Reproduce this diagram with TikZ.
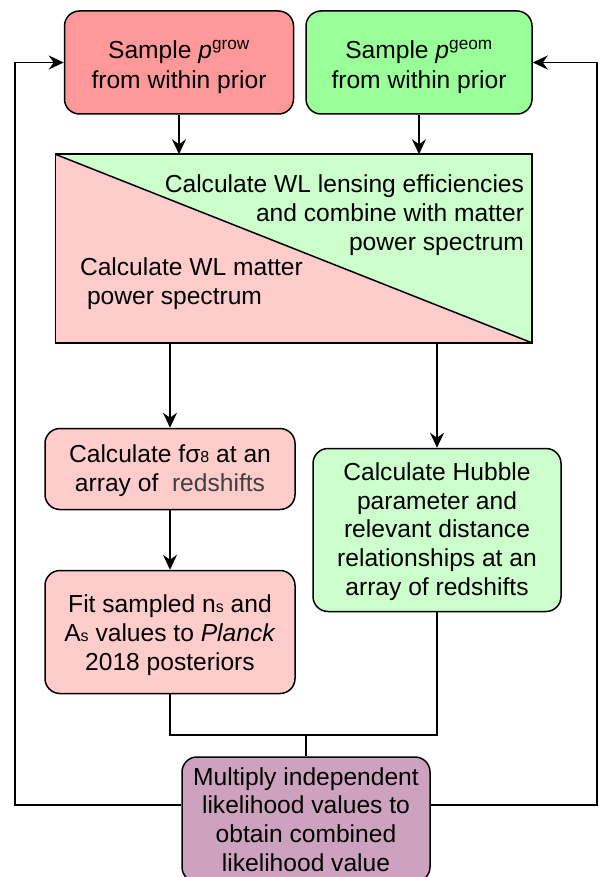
\documentclass[tikz,border=0pt]{standalone}
\usepackage{fontspec}
\setmainfont{Liberation Sans}
\usetikzlibrary{arrows.meta,calc}
\definecolor{growred}{HTML}{FF9999}
\definecolor{geomgreen}{HTML}{99FF99}
\definecolor{lightred}{HTML}{FFCCCC}
\definecolor{lightgreen}{HTML}{CCFFCC}
\definecolor{likepurple}{HTML}{CDA2BE}
\def\smallsub#1{{\fontsize{16}{16}\selectfont #1}}
\def\smallsup#1{\smash{\textsuperscript{#1}}}

\begin{document}
\begin{tikzpicture}[x=1pt, y=-1pt, line width=1.5pt,
	box/.style={draw, rounded corners=15pt, align=center, inner sep=0pt},
	plain/.style={inner sep=0pt},
	arr/.style={-{Stealth[length=15pt, width=14pt, inset=5pt]}},
	font=\fontsize{24.6}{28.8}\selectfont]
		%%%%% START %%%%%
		\useasboundingbox (0, 0) rectangle (600, 877);
		
		\node[box, fill=growred, minimum width=229, minimum height=103] (grow) at (179, 62.5) {\rule{0pt}{27pt}Sample \textit{p}\smallsup{grow}\\[1pt]from within prior};
		\node[box, fill=geomgreen, minimum width=226, minimum height=103] (geom) at (419, 62.5) {\rule{0pt}{27pt}Sample \textit{p}\smallsup{geom}\\[1pt]from within prior};
		
		% split box
		\node[plain, minimum width=475, minimum height=187] (wl) at (293.5, 248.5) {};
		\fill[lightred] (wl.north west) -- (wl.south east) -- (wl.south west) -- cycle;
		\fill[lightgreen] (wl.north west) -- (wl.north east) -- (wl.south east) -- cycle;
		\draw (wl.north west) rectangle (wl.south east);
		\draw (wl.north west) -- (wl.south east);
		\node[plain, align=right, anchor=north east] (wlgeom) at ($(wl.north east)+(-7, 20)$) {Calculate WL lensing efficiencies\\and combine with matter\\power spectrum};
		\node[plain, align=left, anchor=north west] (wlgrow) at ($(wl.north west)+(24, 103)$) {Calculate WL matter\\\hspace{7pt}power spectrum};
		
		\node[box, fill=lightred, minimum width=250, minimum height=81] (fsig) at (170, 469) {\rule{0pt}{21pt}Calculate fσ\smallsub{8} at an\\array of \ \textcolor{black!75}{redshifts}};
		\node[box, fill=lightred, minimum width=250, minimum height=123] (fit) at (170, 632) {\rule{0pt}{24pt}Fit sampled n\smallsub{s} and\\A\smallsub{s} values to \textit{Planck}\\2018 posteriors};
		\node[box, fill=lightgreen, minimum width=248, minimum height=163] (hub) at (437, 530) {\rule{0pt}{21pt}Calculate Hubble\\parameter and\\relevant distance\\relationships at an\\array of redshifts};
		\node[box, fill=likepurple, minimum width=248, minimum height=125] (mult) at (306, 819.5) {Multiply independent\\likelihood values to\\obtain combined\\likelihood value};
		
		\draw[arr] (grow.south) -- (grow.south |- wl.north);
		\draw[arr] (geom.south) -- (geom.south |- wl.north);
		\draw[arr] (wl.south -| fsig.north) -- (fsig.north);
		\draw[arr] (wl.south -| hub.north) -- (hub.north);
		\draw[arr] (fsig.south) -- (fit.north);
		
		\coordinate (join) at (306, 735);
		\draw (fit.south) |- (join) -| (hub.south);
		\draw (join) -- (mult.north);
		
		\coordinate (lloop) at (15, 805);
		\coordinate (rloop) at (597, 805);
		\draw[arr] (mult.west |- lloop) -- (lloop) |- (grow.west);
		\draw[arr] (mult.east |- rloop) -- (rloop) |- (geom.east);
		
		%%%%% END %%%%%
	\end{tikzpicture}
\end{document}
